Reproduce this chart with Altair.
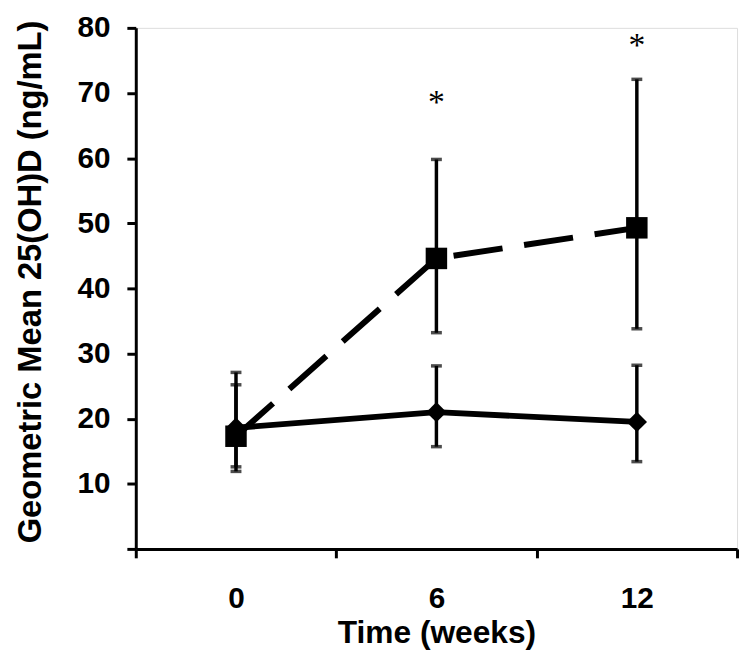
import altair as alt
import pandas as pd

weeks = ["0", "6", "12"]

ctrl_mean = [18.6, 21.0, 19.5]
ctrl_low = [12.6, 15.7, 13.4]
ctrl_high = [25.2, 28.1, 28.2]

trt_mean = [17.3, 44.6, 49.3]
trt_low = [11.9, 33.2, 33.8]
trt_high = [27.1, 59.8, 72.1]

star_weeks = ["6", "12"]
star_level = [67.0, 75.7]

ctrl = pd.DataFrame({"week": weeks, "mean": ctrl_mean, "low": ctrl_low, "high": ctrl_high})
trt = pd.DataFrame({"week": weeks, "mean": trt_mean, "low": trt_low, "high": trt_high})
stars = pd.DataFrame({"week": star_weeks, "level": star_level, "txt": ["*"] * len(star_weeks)})

FONT = "Liberation Sans"

xscale = alt.Scale(type="band", domain=weeks, paddingInner=0, paddingOuter=0)
yscale = alt.Scale(domain=[0, 80], nice=False, zero=True)

xaxis = alt.Axis(
    title="Time (weeks)", tickBand="extent", labelAngle=0,
    labelFont=FONT, labelFontSize=30, labelFontWeight="bold", labelColor="black",
    titleFont=FONT, titleFontSize=32, titleFontWeight="bold", titleColor="black",
    domainColor="black", domainWidth=3, tickColor="black", tickWidth=3, tickSize=9,
    labelPadding=26, titlePadding=4, grid=False,
)
yaxis = alt.Axis(
    title="Geometric Mean  25(OH)D (ng/mL)", values=list(range(0, 81, 10)),
    labelExpr="datum.value == 0 ? '' : datum.label",
    labelFont=FONT, labelFontSize=30, labelFontWeight="bold", labelColor="black",
    titleFont=FONT, titleFontSize=33, titleFontWeight="bold", titleColor="black",
    domainColor="black", domainWidth=3, tickColor="black", tickWidth=3, tickSize=9,
    labelPadding=17, titlePadding=30, titleY=256, grid=False,
)

X = alt.X("week:O", scale=xscale, axis=xaxis, sort=weeks)
Xn = alt.X("week:O", scale=xscale, sort=weeks)


def bars(df):
    rule = alt.Chart(df).mark_rule(color="black", strokeWidth=3.5).encode(
        x=Xn, y=alt.Y("low:Q", scale=yscale), y2="high:Q")
    cap_lo = alt.Chart(df).mark_tick(color="black", thickness=3.5, size=11, orient="horizontal").encode(
        x=Xn, y=alt.Y("low:Q", scale=yscale))
    cap_hi = alt.Chart(df).mark_tick(color="black", thickness=3.5, size=11, orient="horizontal").encode(
        x=Xn, y=alt.Y("high:Q", scale=yscale))
    return rule + cap_lo + cap_hi


ctrl_line = alt.Chart(ctrl).mark_line(color="black", strokeWidth=6).encode(
    x=X, y=alt.Y("mean:Q", scale=yscale, axis=yaxis))
ctrl_pts = alt.Chart(ctrl).mark_point(shape="diamond", filled=True, color="black", size=420, opacity=1).encode(
    x=Xn, y=alt.Y("mean:Q", scale=yscale))

trt_line = alt.Chart(trt).mark_line(color="black", strokeWidth=6, strokeDash=[50, 22]).encode(
    x=Xn, y=alt.Y("mean:Q", scale=yscale))
trt_pts = alt.Chart(trt).mark_point(shape="square", filled=True, color="black", size=470, opacity=1).encode(
    x=Xn, y=alt.Y("mean:Q", scale=yscale))

star_txt = alt.Chart(stars).mark_text(font="Liberation Serif", fontSize=34, color="black", baseline="alphabetic").encode(
    x=Xn, y=alt.Y("level:Q", scale=yscale), text="txt:N")

chart = alt.layer(
    ctrl_line, bars(ctrl), bars(trt), trt_line, ctrl_pts, trt_pts, star_txt
).properties(
    width=607, height=526,
    autosize=alt.AutoSizeParams(type="none"),
    padding={"left": 129, "top": 17, "right": 5, "bottom": 100},
).configure_view(stroke=None).configure(background="white")

chart.save("out.html", embed_options={"renderer": "svg", "actions": False})
